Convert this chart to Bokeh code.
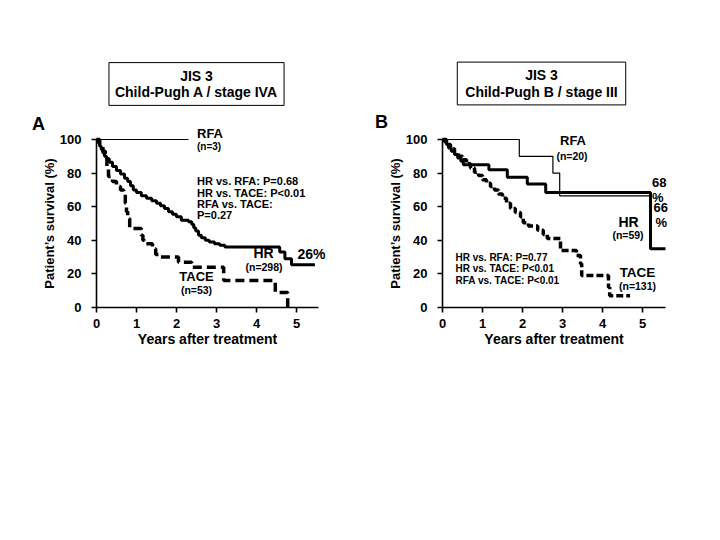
from bokeh.plotting import figure
from bokeh.models import Label, Range1d, LinearAxis, FixedTicker
from bokeh.layouts import row
from bokeh.embed import file_html
from bokeh.resources import INLINE

FONT = "Liberation Sans"

# ---------------- Panel A data (JIS 3, Child-Pugh A / stage IVA) ----------------
a_hr_t = [0, 0.04, 0.08, 0.12, 0.16, 0.2, 0.25, 0.32, 0.4, 0.5, 0.6, 0.7, 0.78, 0.85, 0.92,
          1.0, 1.12, 1.25, 1.38, 1.5, 1.6, 1.7, 1.8, 1.9, 2.0, 2.12, 2.3, 2.38, 2.43, 2.48,
          2.55, 2.62, 2.72, 2.82, 2.95, 3.08, 3.21, 4.58, 4.71, 4.875, 5.46]
a_hr_s = [100, 98, 96, 94, 92, 90, 88.5, 86.5, 84, 81.5, 79.5, 77, 75, 72.5, 70,
          68.5, 66.5, 65, 63.5, 62, 60.5, 59, 57, 55.5, 54, 52, 51, 49.5, 47.5, 45.5,
          43, 41.5, 40, 39, 38, 37, 36, 33, 29, 25.5, 25.5]
a_tace_t = [0, 0.08, 0.16, 0.22, 0.26, 0.3, 0.4, 0.5, 0.6, 0.68, 0.72, 0.75, 0.78, 0.83,
            1.12, 1.16, 1.2, 1.4, 1.48, 1.55, 2.05, 2.38, 3.18, 4.47, 4.78]
a_tace_s = [100, 97, 93, 89, 84, 78, 75, 72, 70, 67.5, 62, 57, 53, 47,
            43, 40, 38, 35, 31.5, 30, 27, 24, 16, 9, 0]
a_rfa_t = [0, 2.3]
a_rfa_s = [100, 100]

# ---------------- Panel B data (JIS 3, Child-Pugh B / stage III) ----------------
b_hr_t = [0, 0.05, 0.1, 0.15, 0.22, 0.3, 0.38, 0.46, 0.52, 1.16, 1.62, 2.12, 2.58, 5.2, 5.575]
b_hr_s = [100, 98.5, 97, 95, 93, 91, 89, 87, 85, 82, 77.5, 73.5, 68.5, 35, 35]
b_rfa_t = [0, 1.92, 2.76, 2.93, 5.17]
b_rfa_s = [100, 90, 80, 66.5, 66.5]
b_tace_t = [0, 0.1, 0.2, 0.3, 0.4, 0.5, 0.6, 0.7, 0.8, 0.9, 1.0, 1.1, 1.2, 1.3, 1.4, 1.5,
            1.6, 1.7, 1.82, 1.95, 2.02, 2.15, 2.38, 2.52, 2.62, 2.95, 3.35, 3.45, 3.48,
            4.15, 4.18, 4.69]
b_tace_s = [100, 97, 94.5, 92, 90, 88, 85.5, 83, 80.5, 78.5, 76, 74, 72, 70, 67.5, 65,
            62, 59, 56.5, 54, 50.5, 48.5, 46, 43.5, 41, 34, 31, 26, 19,
            12, 7, 7]

x_ticks = [0, 1, 2, 3, 4, 5]
y_ticks = [0, 20, 40, 60, 80, 100]

H = 538
Y0 = 307           # page y of survival 0 %
PX_X = 40.0        # px per year
PX_Y = 1.68        # px per percent


def make_fig(page_left, width, x0_px, xmax):
    # the frame fills the whole canvas; axes are pinned at the data origin
    x_start = (page_left - x0_px) / PX_X
    x_end = (page_left + width - x0_px) / PX_X
    y_start = (Y0 - H) / PX_Y
    y_end = Y0 / PX_Y
    p = figure(width=width, height=H, x_range=Range1d(x_start, x_end),
               y_range=Range1d(y_start, y_end),
               output_backend="svg", toolbar_location=None,
               x_axis_location=None, y_axis_location=None,
               min_border=0, min_border_left=0, min_border_right=0,
               min_border_top=0, min_border_bottom=0)
    p.outline_line_color = None
    p.xgrid.visible = False
    p.ygrid.visible = False
    p.background_fill_color = "white"
    p.border_fill_color = "white"
    xa = LinearAxis(fixed_location=0, bounds=(0, xmax), ticker=FixedTicker(ticks=x_ticks),
                    axis_label="Years after treatment")
    ya = LinearAxis(fixed_location=0, bounds=(0, 100), ticker=FixedTicker(ticks=y_ticks),
                    axis_label="Patient\u2019s survival (%)")
    for ax in (xa, ya):
        ax.axis_line_width = 1.6
        ax.axis_line_color = "black"
        ax.major_tick_line_width = 1.6
        ax.major_tick_line_color = "black"
        ax.major_tick_out = 5
        ax.major_tick_in = 0
        ax.minor_tick_out = 0
        ax.minor_tick_in = 0
        ax.major_label_text_font = FONT
        ax.major_label_text_font_style = "bold"
        ax.major_label_text_font_size = "13px"
        ax.major_label_text_color = "black"
        ax.axis_label_text_font = FONT
        ax.axis_label_text_font_style = "bold"
        ax.axis_label_text_color = "black"
    xa.axis_label_text_font_size = "14px"
    ya.axis_label_text_font_size = "13px"
    xa.major_label_standoff = 6
    ya.major_label_standoff = 10
    xa.axis_label_standoff = 0
    ya.axis_label_standoff = 0
    p.add_layout(xa, "below")
    p.add_layout(ya, "left")
    return p


def lab(p, x0_px, text, x, y, size, align="left", **kw):
    # x, y: pixel position on the page; converted to the figure's data space
    p.add_layout(Label(x=(x - x0_px) / PX_X, y=(Y0 - y) / PX_Y,
                       text=text, text_font=FONT, text_font_style="bold",
                       text_font_size=f"{size}px", text_align=align,
                       text_baseline="middle", text_color="black", **kw))


# ---------------- Figure A ----------------
XA = 96
pa = make_fig(0, 358, XA, 5.55)
pa.step(a_rfa_t, a_rfa_s, mode="after", line_color="black", line_width=1.2)
pa.step(a_hr_t, a_hr_s, mode="after", line_color="black", line_width=3)
pa.step(a_tace_t, a_tace_s, mode="after", line_color="black", line_width=3.5, line_dash="9 5")

lab(pa, XA, "A", 38, 123.5, 18, "center")
lab(pa, XA, "JIS 3\nChild-Pugh A / stage IVA", 196, 83.5, 14, "center",
    text_line_height=1.05, border_line_color="black", border_line_width=1,
    background_fill_color="white",
    padding=dict(left=6, right=6, top=5, bottom=5))
lab(pa, XA, "RFA", 196.5, 133, 13)
lab(pa, XA, "(n=3)", 196.5, 146, 10)
for i, t in enumerate(["HR vs. RFA: P=0.68", "HR vs. TACE: P<0.01", "RFA vs. TACE:", "P=0.27"]):
    lab(pa, XA, t, 196.5, 180.7 + i * 11.3, 11)
lab(pa, XA, "HR", 263, 252.5, 14, "center")
lab(pa, XA, "(n=298)", 263.5, 266, 10.5, "center")
lab(pa, XA, "26%", 297, 253, 14)
lab(pa, XA, "TACE", 196, 276, 13, "center")
lab(pa, XA, "(n=53)", 196, 289, 10.5, "center")

# ---------------- Figure B ----------------
XB = 442
pb = make_fig(358, 360, XB, 5.575)
pb.step(b_rfa_t, b_rfa_s, mode="after", line_color="black", line_width=1.2)
pb.step(b_hr_t, b_hr_s, mode="after", line_color="black", line_width=3)
pb.step(b_tace_t, b_tace_s, mode="after", line_color="black", line_width=3.5, line_dash="7 3")

lab(pb, XB, "B", 381, 121.5, 18, "center")
lab(pb, XB, "JIS 3\nChild-Pugh B / stage III", 541, 83, 14, "center",
    text_line_height=1.05, border_line_color="black", border_line_width=1,
    background_fill_color="white",
    padding=dict(left=8, right=8, top=5, bottom=5))
lab(pb, XB, "RFA", 572.5, 140, 13, "center")
lab(pb, XB, "(n=20)", 571.5, 155, 10.5, "center")
lab(pb, XB, "68", 651.5, 181.7, 13)
lab(pb, XB, "%", 651.5, 196.7, 13)
lab(pb, XB, "66", 653, 206.7, 13)
lab(pb, XB, "%", 655, 221.7, 13)
lab(pb, XB, "HR", 628, 221, 14, "center")
lab(pb, XB, "(n=59)", 627.5, 234, 10.5, "center")
lab(pb, XB, "TACE", 637, 271.7, 13.5, "center")
lab(pb, XB, "(n=131)", 637, 285.8, 10.5, "center")
for i, t in enumerate(["HR vs. RFA: P=0.77", "HR vs. TACE: P<0.01", "RFA vs. TACE: P<0.01"]):
    lab(pb, XB, t, 455, 256.7 + i * 11.7, 10)

layout = row(pa, pb)
open("out.html", "w").write(file_html(layout, INLINE))
